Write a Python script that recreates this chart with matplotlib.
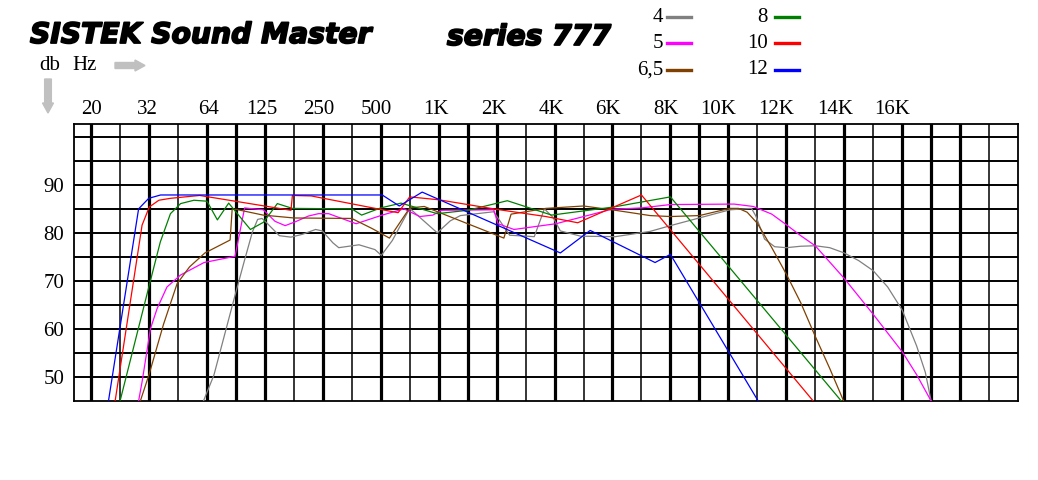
import matplotlib.pyplot as plt
import matplotlib.patheffects as pe
from matplotlib.lines import Line2D
from matplotlib.patches import FancyArrow

# x values are grid columns: 0 is the "20" line, one step per vertical grid line
freq_labels = ['20', '32', '64', '125', '250', '500', '1K', '2K', '4K', '6K',
               '8K', '10K', '12K', '14K', '16K']
freq_label_pos = [0, 1.95, 4.05, 5.9, 7.85, 9.85, 11.9, 13.9, 15.9, 17.85,
                  19.85, 21.65, 23.65, 25.7, 27.65]
db_ticks = [50, 60, 70, 80, 90]

series_names = ['4', '5', '6,5', '8', '10', '12']
series_colors = ['#808080', '#ff00ff', '#804000', '#008000', '#ff0000', '#0000ff']

x_4 = [3.88, 4.24, 4.94, 5.28, 5.57, 5.75, 5.9, 6.06, 6.5, 6.9, 7.3, 7.75, 7.98,
       8.35, 8.55, 9.25, 9.8, 10.02, 10.4, 11.0, 11.95, 12.4, 12.75, 13.9, 14.45,
       15.3, 15.65, 15.95, 16.2, 16.9, 18.1, 19.3, 20.0, 22.05, 22.8, 22.95, 23.25,
       23.6, 24.0, 24.5, 25.0, 25.5, 26.0, 26.5, 27.0, 27.5, 28.0, 28.5, 28.8, 29.0]
db_4 = [45, 50.4, 66.4, 74, 80.3, 82.9, 83.1, 82.2, 79.5, 79.2, 79.8, 80.8, 80.5,
        78, 77, 77.6, 76.6, 75.4, 78.5, 85.2, 80.1, 82.6, 83.7, 84.5, 79.6,
        79.3, 85.1, 83.3, 80.5, 79.4, 79.3, 80.4, 81.6, 84.9, 85.2, 83.6, 78.8,
        77.2, 77.0, 77.3, 77.4, 77.0, 75.9, 74.3, 72.2, 68.8, 64.0, 56.5, 51, 45]

x_5 = [1.64, 1.76, 2.05, 2.28, 2.62, 3.09, 3.9, 4.97, 5.3, 5.95, 6.35, 6.7, 7.05,
       7.5, 7.85, 8.2, 9.15, 10.05, 10.8, 11.35, 11.8, 12.1, 13.9, 14.05, 14.6,
       16.05, 17.96, 19.0, 20.0, 22.2, 22.86, 23.5, 24.0, 24.5, 25.0, 26.0, 27.0,
       28.0, 28.5, 29.0]
db_5 = [45, 49, 60.1, 64.3, 68.8, 71.3, 73.9, 75.2, 85.3, 84.9, 82.5, 81.6, 82.4,
        83.6, 84.1, 84.1, 82, 83.8, 85.1, 83.5, 83.8, 84.8, 84.9, 82, 80.8,
        82, 85, 85.3, 86, 86.1, 85.6, 84, 81.8, 79.5, 77.4, 70.6, 63.1,
        55.3, 50.5, 45]

x_65 = [1.7, 2.0, 2.5, 2.97, 3.4, 3.93, 4.8, 4.87, 5.0, 5.94, 7.0, 9.0, 9.7, 10.3,
        11.0, 11.5, 14.25, 14.5, 15.7, 17.0, 18.1, 19.3, 20.0, 21.0, 22.05, 22.35,
        22.65, 23.0, 23.5, 24.0, 24.5, 25.0, 25.5, 25.98]
db_65 = [45, 50.5, 61, 69.5, 73, 75.9, 78.6, 85, 85, 83.8, 83.2, 83.1, 81, 79,
         85.3, 85.6, 79, 84, 85.2, 85.7, 84.8, 83.7, 83.5, 83.7, 85.2, 85.2,
         84.4, 82.1, 77, 71.5, 65.5, 58.5, 51.8, 45]

x_8 = [1.0, 2.01, 2.39, 2.74, 3.09, 3.55, 4.0, 4.36, 4.75, 5.5, 5.95, 6.43, 6.95,
       9.0, 9.34, 10.0, 10.7, 11.95, 13.0, 14.37, 15.9, 18.05, 20.0, 25.9]
db_8 = [45, 69.2, 78.2, 84.1, 86.2, 86.9, 86.7, 82.8, 86.3, 80.8, 82.3, 86.2, 85.2,
        85.1, 83.8, 85.3, 86.3, 84.1, 84.8, 86.8, 83.8, 85.5, 87.6, 45]

x_10 = [0.83, 1.76, 2.01, 2.34, 2.74, 3.75, 6.9, 6.95, 7.6, 9.98, 10.6, 11.0, 12.0,
        14.0, 15.7, 16.8, 19.0, 24.93]
db_10 = [45, 81.7, 85.5, 86.9, 87.3, 87.9, 84.8, 87.9, 87.8, 85.0, 84.3, 87.6, 87.0,
         85.0, 83.5, 82.2, 88.0, 45]

x_12 = [0.6, 1.64, 1.99, 2.4, 10.05, 10.64, 11.43, 16.2, 17.23, 19.47, 20.0, 23.03]
db_12 = [45, 85.1, 87.3, 88, 88, 85.7, 88.6, 75.9, 80.6, 73.9, 75.6, 45]

series_x = [x_4, x_5, x_65, x_8, x_10, x_12]
series_db = [db_4, db_5, db_65, db_8, db_10, db_12]

thick_cols = [0, 2, 4, 5, 6, 8, 10, 12, 13, 14, 16, 18, 20, 21, 22, 24, 26, 28, 29, 30]

W, H = 1038, 480
fig = plt.figure(figsize=(W / 100, H / 100), dpi=100)
ax = fig.add_axes([74 / W, 1 - 401 / H, 944 / W, (401 - 124.3) / H])
ax.set_xlim(-0.59, 32)
ax.set_ylim(45, 102.75)

serif = ['Liberation Serif', 'DejaVu Serif']

# grid
for c in range(0, 32):
    lw = 2.3 if c in thick_cols else 1.1
    ax.axvline(c, color='black', lw=lw, zorder=1)
for d in range(50, 101, 5):
    ax.axhline(d, color='black', lw=1.4, zorder=1)
for s in ax.spines.values():
    s.set_linewidth(1.3)

for xs, ys, col in zip(series_x, series_db, series_colors):
    ax.plot(xs, ys, color=col, lw=0.9, zorder=3)

ax.xaxis.tick_top()
ax.set_xticks(freq_label_pos, freq_labels)
ax.set_yticks(db_ticks)
ax.tick_params(axis='x', length=0, pad=4, labelsize=15)
ax.tick_params(axis='y', length=0, pad=7, labelsize=15)
for lab in ax.get_xticklabels() + ax.get_yticklabels():
    lab.set_family(serif)

# header
heavy = [pe.withStroke(linewidth=1.3, foreground='black')]
fig.text(30 / W, 1 - 35 / H, 'SISTEK Sound Master', fontsize=20.3, weight='heavy',
         style='italic', family='DejaVu Sans', va='center', ha='left',
         path_effects=heavy)
fig.text(447 / W, 1 - 37 / H, 'series 777', fontsize=20.3, weight='heavy',
         style='italic', family='DejaVu Sans', va='center', ha='left',
         path_effects=heavy)
fig.text(39 / W, 1 - 66 / H, 'db', fontsize=15, family=serif, va='center', ha='left')
fig.text(72 / W, 1 - 66 / H, 'Hz', fontsize=15, family=serif, va='center', ha='left')

fig.patches.append(FancyArrow(1.15, (H - 65.5) / 100, 0.2, 0, width=0.06,
                              head_width=0.11, head_length=0.10,
                              length_includes_head=False, color='#c0c0c0',
                              transform=fig.dpi_scale_trans, figure=fig))
fig.patches.append(FancyArrow(0.48, (H - 79) / 100, 0, -0.24, width=0.067,
                              head_width=0.11, head_length=0.10,
                              length_includes_head=False, color='#c0c0c0',
                              transform=fig.dpi_scale_trans, figure=fig))

# legend
leg_x = [(663, 667, 691), (663, 667, 691), (663, 667, 691),
         (768, 775, 799), (768, 775, 799), (768, 775, 799)]
leg_y = [17, 43, 70, 17, 43, 70]
for name, col, (tx, x0, x1), y in zip(series_names, series_colors, leg_x, leg_y):
    fig.text(tx / W, 1 - y / H, name, fontsize=15, family=serif, ha='right', va='center')
    fig.add_artist(Line2D([x0 / W, x1 / W], [1 - y / H, 1 - y / H], color=col,
                          lw=2.4, transform=fig.transFigure))

fig.savefig('out.png', dpi=100)
